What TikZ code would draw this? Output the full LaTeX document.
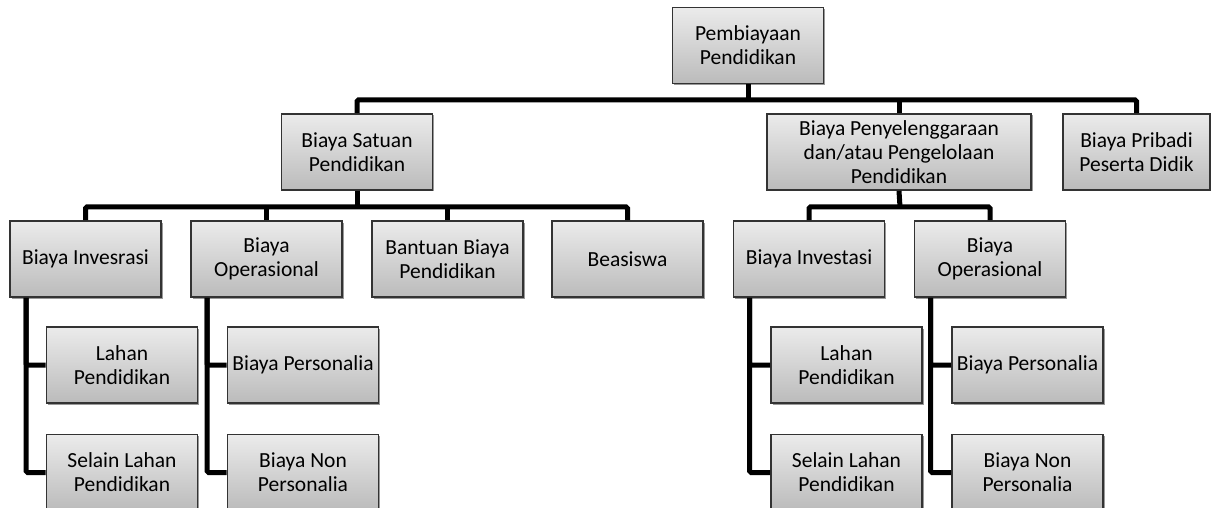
\documentclass[tikz,border=0pt]{standalone}
\usepackage{fontspec}
\setmainfont{Carlito}
\usetikzlibrary{positioning,shadows,calc}
\definecolor{frame}{HTML}{333333}
\definecolor{shadetop}{HTML}{EBEBEB}
\definecolor{shadebot}{HTML}{BBBBBB}
\tikzset{
  unit/.style={draw=frame,line width=1.6pt,top color=shadetop,bottom color=shadebot,
    minimum width=151pt,minimum height=76pt,inner sep=0pt,align=center,
    font=\fontsize{21.5}{24}\selectfont,
    drop shadow={shadow xshift=1.5pt,shadow yshift=-1.5pt,opacity=.4,fill=black}},
  unitw/.style={unit,minimum width=264pt},
  tie/.style={line width=5pt,draw=black,rounded corners=1.5pt},
}

\begin{document}
\begin{tikzpicture}[x=1pt,y=-1pt,node distance=30pt]
  \useasboundingbox (0,0) rectangle (1211,508);
  % top level
  \node[unit](root) at (748,45.5){Pembiayaan\\Pendidikan};
  \node[unit](satuan) at (357,152){Biaya Satuan\\Pendidikan};
  \node[unitw](penyel) at (899,152){Biaya Penyelenggaraan\\dan/atau Pengelolaan\\Pendidikan};
  \node[unit,minimum width=147pt](pribadi) at (1136.5,152){Biaya Pribadi\\Peserta Didik};
  % second level
  \node[unit](invesrasi) at (85.5,259){Biaya Invesrasi};
  \node[unit](opsA) at (266.5,259){Biaya\\Operasional};
  \node[unit](bantuan) at (447.5,259){Bantuan Biaya\\Pendidikan};
  \node[unit](beasiswa) at (627.5,259){Beasiswa};
  \node[unit](investasi) at (809,259){Biaya Investasi};
  \node[unit](opsB) at (990,259){Biaya\\Operasional};
  % third level
  \node[unit](lahanA) at (122,365){Lahan\\Pendidikan};
  \node[unit,below=of lahanA](selainA){Selain Lahan\\Pendidikan};
  \node[unit](persA) at (303,365){Biaya Personalia};
  \node[unit,below=of persA](nonpersA){Biaya Non\\Personalia};
  \node[unit](lahanB) at (846.5,365){Lahan\\Pendidikan};
  \node[unit,below=of lahanB](selainB){Selain Lahan\\Pendidikan};
  \node[unit](persB) at (1027.5,365){Biaya Personalia};
  \node[unit,below=of persB](nonpersB){Biaya Non\\Personalia};
  % connectors
  \coordinate (busA) at (748,100);
  \coordinate (busB) at (357,207);
  \coordinate (busC) at (900,207);
  \draw[tie](root.south)--(root.south |- busA);
  \draw[tie](satuan.north)|-(busA)-|(pribadi.north);
  \draw[tie](penyel.north)--(penyel.north |- busA);
  \draw[tie](satuan.south)--(busB);
  \draw[tie](invesrasi.north)|-(busB)-|(beasiswa.north);
  \draw[tie](opsA.north)--(opsA.north |- busB);
  \draw[tie](bantuan.north)--(bantuan.north |- busB);
  \draw[tie](penyel.south)--(busC);
  \draw[tie](investasi.north)|-(busC)-|(opsB.north);
  \foreach \up/\one/\two in {invesrasi/lahanA/selainA,opsA/persA/nonpersA,
      investasi/lahanB/selainB,opsB/persB/nonpersB}{
    \draw[tie]([xshift=17pt]\up.south west)|-(\one.west);
    \draw[tie]([xshift=17pt]\up.south west)|-(\two.west);
  }
\end{tikzpicture}
\end{document}
